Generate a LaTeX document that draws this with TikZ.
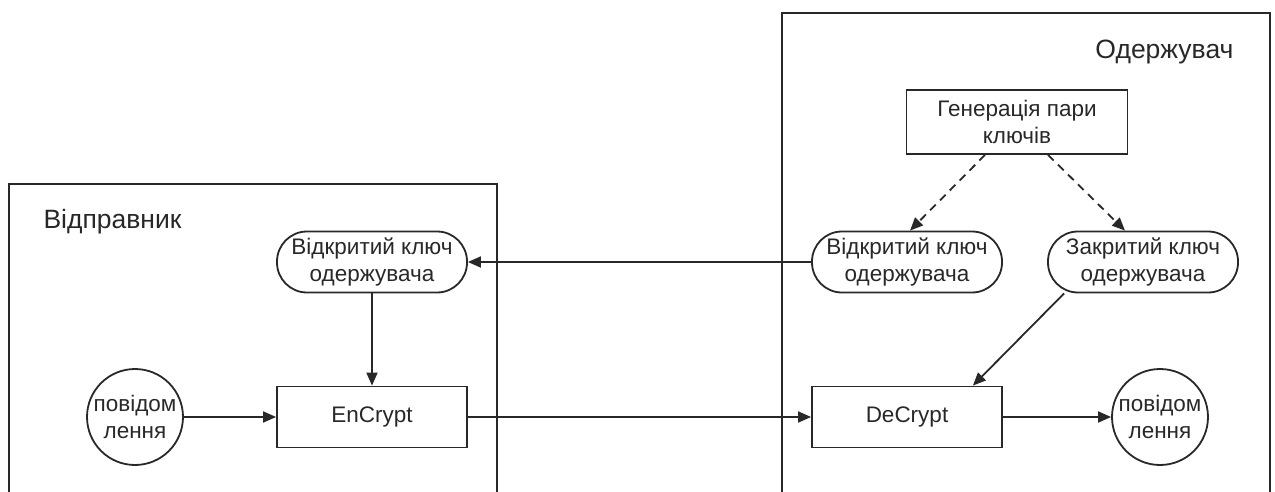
\documentclass[tikz,border=0pt]{standalone}
\usepackage{fontspec}
\setmainfont{Liberation Sans}
\usetikzlibrary{arrows.meta,calc}
\definecolor{ink}{RGB}{40,40,40}
\newcommand\labfont{\fontsize{22.5}{27}\selectfont}
\newcommand\headfont{\fontsize{26.5}{30}\selectfont}
\begin{document}
\begin{tikzpicture}[x=1pt,y=-1pt,
  every node/.style={text=ink},
  proc/.style={draw=ink, line width=1.8pt, minimum width=190pt, minimum height=61pt,
               inner sep=0pt, align=center, font=\labfont},
  keynode/.style={proc, rounded corners=30pt},
  msg/.style={draw=ink, line width=1.8pt, circle, minimum size=96pt, inner sep=0pt,
              align=center, font=\labfont},
  link/.style={draw=ink, line width=1.8pt, -{Triangle[length=13pt,width=11pt]}},
  genlink/.style={link, dash pattern=on 8pt off 6pt},
  frame/.style={draw=ink, line width=1.8pt}]
\useasboundingbox (0,0) rectangle (1275,492);

% participant frames, open at the bottom
\draw[frame] (9,492) -- (9,184) -- (497,184) -- (497,492);
\draw[frame] (782,492) -- (782,13) -- (1270,13) -- (1270,492);
\node[anchor=west, font=\headfont] (sender) at (40,222) {Відправник};
\node[anchor=east, font=\headfont] (receiver) at (1237,52) {Одержувач};

% sender side
\node[keynode] (okl) at (372,262) {Відкритий ключ\\одержувача};
\node[proc] (enc) at (372,417) {EnCrypt};
\node[msg] (msgl) at (135,417) {повідом\\лення};

% receiver side
\node[proc, minimum width=221pt, minimum height=64pt] (gen) at (1017,122) {Генерація пари\\ключів};
\node[keynode] (okr) at (907,262) {Відкритий ключ\\одержувача};
\node[keynode] (ck) at (1143,262) {Закритий ключ\\одержувача};
\node[proc] (dec) at (907,417) {DeCrypt};
\node[msg] (msgr) at (1160,417) {повідом\\лення};

% connectors
\draw[genlink] ([xshift=-32pt]gen.south) -- ([xshift=3pt]okr.north);
\draw[genlink] ([xshift=31pt]gen.south) -- ([xshift=-18pt]ck.north);
\draw[link] (okr.west) -- (okl.east);
\draw[link] (okl.south) -- (enc.north);
\draw[link] (msgl.east) -- (enc.west);
\draw[link] (enc.east) -- (dec.west);
\draw[link] ([xshift=17pt]ck.south west) -- ([xshift=-30pt]dec.north east);
\draw[link] (dec.east) -- (msgr.west);
\end{tikzpicture}
\end{document}
